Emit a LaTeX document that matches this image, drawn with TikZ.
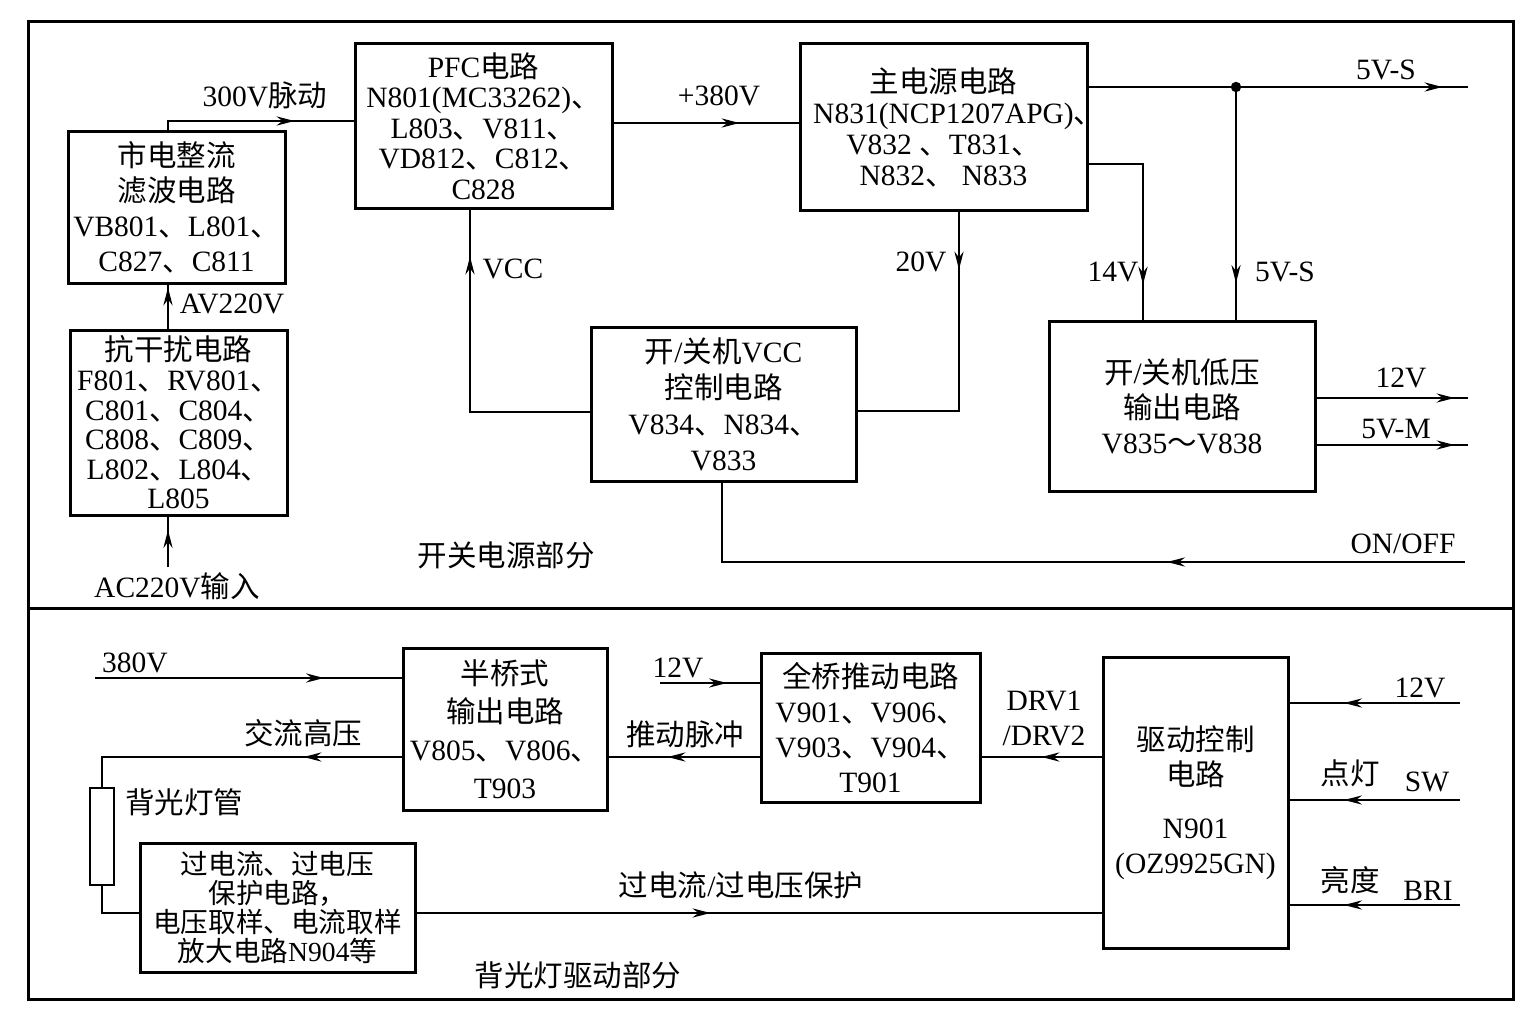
\documentclass[tikz,border=0pt]{standalone}
\usepackage{fontspec}
\setmainfont{Liberation Serif}
\newfontfamily\cjk{Noto Sans CJK SC}
\newcommand\ZH[1]{{\cjk #1}}
\newcommand\BoxFont[2]{\fontsize{#1}{#2}\selectfont\lineskiplimit-20pt\relax}
\usetikzlibrary{arrows.meta,decorations.markings,calc}
\tikzset{
  tipa/.tip={Stealth[length=9pt,width=4.6pt,inset=3pt]},
  box/.style={draw, line width=1.5pt, align=center, inner sep=0pt,
    font={\BoxFont{14.75}{#1}}},
  wire/.style={line width=0.8pt},
  marr/.style={postaction={decorate}, decoration={markings, mark=at position #1 with {\arrow{tipa}}}},
  lbl/.style={inner sep=0pt, font={\BoxFont{14.75}{17.5}}, align=center},
}
\begin{document}
\begin{tikzpicture}[x=0.5pt,y=-0.5pt]
\useasboundingbox (0,0) rectangle (1536,1022);
% frame
\draw[line width=1.5pt] (28,22) rectangle (1513,999);
\draw[line width=1.5pt] (28,608) -- (1513,608);

% ---------- upper part boxes
\node[box=17.5, minimum width=108.5pt, minimum height=75.5pt] (r1) at (176.5,207.5)
  {\ZH{市电整流}\\ \ZH{滤波电路}\\ VB801\ZH{、}L801\ZH{、}\\ C827\ZH{、}C811};
\node[box=15.25, minimum width=128.5pt, minimum height=82pt] (pfc) at (483.5,126)
  {PFC\ZH{电路}\\ N801(MC33262)\ZH{、}\\ L803\ZH{、}V811\ZH{、}\\ VD812\ZH{、}C812\ZH{、}\\ C828};
\node[box=15.5, minimum width=143.5pt, minimum height=83pt] (main) at (943.5,127)
  {\ZH{主电源电路}\\ N831(NCP1207APG)\rlap{\ZH{、}}\\ V832 \ZH{、}T831\ZH{、}\\ N832\ZH{、} N833};
\node[box=18, minimum width=132.5pt, minimum height=77pt] (vcc) at (723.5,404)
  {\ZH{开}/\ZH{关机}VCC\\ \ZH{控制电路}\\ V834\ZH{、}N834\ZH{、}\\ V833};
\node[box=17.5, minimum width=133pt, minimum height=85pt] (low) at (1182,406)
  {\ZH{开}/\ZH{关机低压}\\ \ZH{输出电路}\\ V835\ZH{～}V838};
\node[box=14.8, minimum width=108.5pt, minimum height=92.5pt] (r2) at (178.5,422.5)
  {\ZH{抗干扰电路}\\ F801\ZH{、}RV801\ZH{、}\\ C801\ZH{、}C804\ZH{、}\\ C808\ZH{、}C809\ZH{、}\\ L802\ZH{、}L804\ZH{、}\\ L805};

% ---------- lower part boxes
\node[box=19, minimum width=102pt, minimum height=81pt] (hb) at (505,729)
  {\ZH{半桥式}\\ \ZH{输出电路}\\ V805\ZH{、}V806\ZH{、}\\ T903};
\node[box=17.5, minimum width=109.5pt, minimum height=74.5pt] (fb) at (870.5,727.5)
  {\ZH{全桥推动电路}\\ V901\ZH{、}V906\ZH{、}\\ V903\ZH{、}V904\ZH{、}\\ T901};
\node[box=17.5, minimum width=92.5pt, minimum height=145.5pt] (drv) at (1195.5,802.5)
  {\ZH{驱动控制}\\ \ZH{电路}\\[9pt] N901\\ (OZ9925GN)};
\node[box=14.5, font={\BoxFont{13.8}{14.5}},
  minimum width=137.5pt, minimum height=64.5pt] (prot) at (277.5,907.5)
  {\ZH{过电流、过电压}\\ \ZH{保护电路，}\\ \ZH{电压取样、电流取样}\\ \ZH{放大电路}N904\ZH{等}};
\node[draw, line width=1.2pt, inner sep=0pt, minimum width=12pt, minimum height=48.5pt] (lamp) at (102,836.5) {};

% ---------- coordinates
\coordinate (cA) at (168,121);
\coordinate (y380) at (0,123);
\coordinate (o5vs) at (1468,87);
\coordinate (dot) at (1236,87);
\coordinate (c14) at (1143,164);
\coordinate (c20) at (959,411);
\coordinate (cvcc) at (470,412);
\coordinate (ion) at (1465,562);
\coordinate (con) at (722,562);
\coordinate (o12) at (1468,398);
\coordinate (o5m) at (1468,445);
\coordinate (iac) at (168,567);
\coordinate (i380) at (95,678);
\coordinate (cac) at (102,757);
\coordinate (cl) at (102,913);
\coordinate (i12b) at (660,683);
\coordinate (ypul) at (0,757);
\coordinate (i12r) at (1460,703);
\coordinate (isw) at (1460,800);
\coordinate (ibri) at (1460,905);

% ---------- upper wires
\draw[wire,marr=68pt] (r1.north -| cA) -- (cA) -- (pfc.west |- cA);
\draw[wire,marr=63pt] (pfc.east |- y380) -- (main.west |- y380);
\draw[wire,marr=177pt] (main.east |- o5vs) -- (o5vs);
\fill (dot) circle[radius=2.6pt];
\draw[wire,marr=98pt] (dot) -- (low.north -| dot);
\draw[wire,marr=87.5pt] (main.east |- c14) -- (c14) -- (low.north -| c14);
\draw[wire,marr=29pt] (main.south -| c20) -- (c20) -- (vcc.east |- c20);
\draw[wire,marr=137.5pt] (vcc.west |- cvcc) -- (cvcc) -- (pfc.south -| cvcc);
\draw[wire,marr=149pt] (ion) -- (con) -- (vcc.south -| con);
\draw[wire,marr=69pt] (low.east |- o12) -- (o12);
\draw[wire,marr=69pt] (low.east |- o5m) -- (o5m);
\draw[wire,marr=20.5pt] (r2.north -| cA) -- (r1.south -| cA);
\draw[wire,marr=18.5pt] (iac) -- (r2.south -| iac);

% ---------- lower wires
\draw[wire,marr=114.5pt] (i380) -- (hb.west |- i380);
\draw[wire,marr=49pt] (hb.west |- cac) -- (cac) -- (lamp.north);
\draw[wire] (lamp.south) -- (cl) -- (prot.west |- cl);
\draw[wire,marr=147pt] (prot.east |- cl) -- (drv.west |- cl);
\draw[wire,marr=33.5pt] (i12b) -- (fb.west |- i12b);
\draw[wire,marr=46pt] (fb.west |- ypul) -- (hb.east |- ypul);
\draw[wire,marr=30pt] (drv.west |- ypul) -- (fb.east |- ypul);
\draw[wire,marr=58pt] (i12r) -- (drv.east |- i12r);
\draw[wire,marr=58pt] (isw) -- (drv.east |- isw);
\draw[wire,marr=58pt] (ibri) -- (drv.east |- ibri);

% ---------- labels upper
\node[lbl] (l300) at (265,95) {300V\ZH{脉动}};
\node[lbl] (l380) at (719,96) {+380V};
\node[lbl] (l5vs) at (1386,70) {5V-S};
\node[lbl] (l5vs2) at (1285,272) {5V-S};
\node[lbl] (l14) at (1113,272) {14V};
\node[lbl] (l20) at (921,262) {20V};
\node[lbl] (lvcc) at (513,269) {VCC};
\node[lbl] (lav) at (232,304) {AV220V};
\node[lbl] (lac) at (177,586) {AC220V\ZH{输入}};
\node[lbl] (lsec1) at (506,555) {\ZH{开关电源部分}};
\node[lbl] (lon) at (1403,544) {ON/OFF};
\node[lbl] (l12) at (1401,378) {12V};
\node[lbl] (l5m) at (1396,429) {5V-M};

% ---------- labels lower
\node[lbl] (l380b) at (135,663) {380V};
\node[lbl] (lach) at (303,733) {\ZH{交流高压}};
\node[lbl] (llamp) at (184,802) {\ZH{背光灯管}};
\node[lbl] (lpul) at (685,734) {\ZH{推动脉冲}};
\node[lbl] (l12b) at (678,668) {12V};
\node[lbl] (ldrv) at (1044,718) {DRV1\\ /DRV2};
\node[lbl] (l12r) at (1420,688) {12V};
\node[lbl] (ldd) at (1350,773) {\ZH{点灯}};
\node[lbl] (lsw) at (1427,782) {SW};
\node[lbl] (lld) at (1350,880) {\ZH{亮度}};
\node[lbl] (lbri) at (1428,891) {BRI};
\node[lbl] (lprot) at (741,885) {\ZH{过电流}/\ZH{过电压保护}};
\node[lbl] (lsec2) at (578,975) {\ZH{背光灯驱动部分}};
\end{tikzpicture}
\end{document}
